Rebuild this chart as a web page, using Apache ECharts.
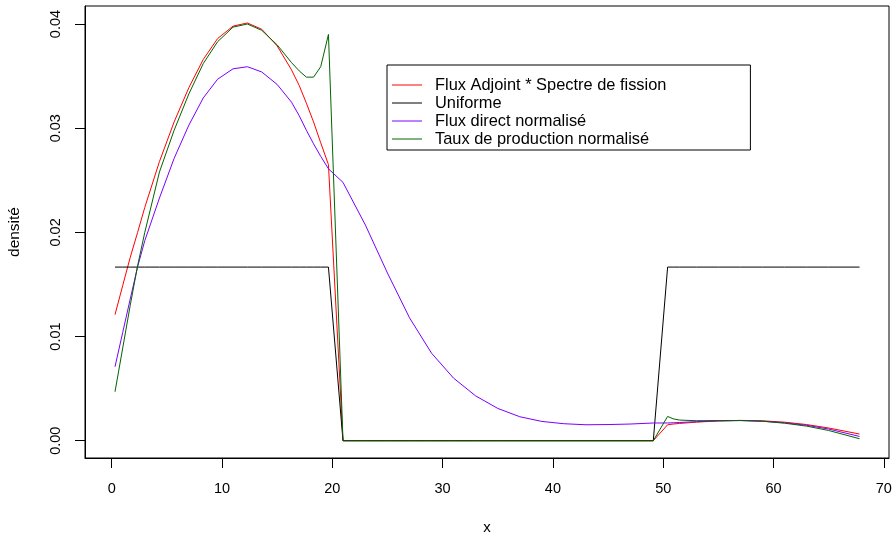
<!DOCTYPE html>
<html>
<head>
<meta charset="utf-8">
<script src="https://cdn.jsdelivr.net/npm/echarts@6/dist/echarts.min.js"></script>
<style>
html,body{margin:0;padding:0;background:#fff;}
#chart{width:896px;height:537px;}
</style>
</head>
<body>
<div id="chart"></div>
<script>
// Shared abscissa
var xValues = [
  0.30, 1.0, 1.68, 2.35, 3.0, 4.33, 5.66, 7.0, 8.3, 9.6, 11.0, 12.3, 13.6, 15.0, 16.3, 17.0, 17.65, 18.3, 18.95, 19.65,
  20.97, 23, 25, 27, 29, 31, 33, 35, 37, 39, 41, 43, 45, 47, 49.1,
  50.4, 50.9, 51.5, 53, 55, 57, 59, 61, 63, 65, 67.8
];
var fluxAdjoint = [
  0.0121, 0.0149, 0.0176, 0.0200, 0.0224, 0.0268, 0.0306, 0.0339, 0.0366, 0.0386, 0.0398, 0.0401, 0.0395, 0.0379, 0.0356, 0.0341, 0.0324, 0.0306, 0.0286, 0.0265,
  0, 0, 0, 0, 0, 0, 0, 0, 0, 0, 0, 0, 0, 0, 0,
  0.00153, 0.0016, 0.00166, 0.00178, 0.0019, 0.00195, 0.00191, 0.00178, 0.00155, 0.00122, 0.00064
];
var uniforme = [
  0.016667, 0.016667, 0.016667, 0.016667, 0.016667, 0.016667, 0.016667, 0.016667, 0.016667, 0.016667, 0.016667, 0.016667, 0.016667, 0.016667, 0.016667, 0.016667, 0.016667, 0.016667, 0.016667, 0.016667,
  0, 0, 0, 0, 0, 0, 0, 0, 0, 0, 0, 0, 0, 0, 0,
  0.016667, 0.016667, 0.016667, 0.016667, 0.016667, 0.016667, 0.016667, 0.016667, 0.016667, 0.016667, 0.016667
];
var fluxDirect = [
  0.0071, 0.0104, 0.0136, 0.0167, 0.0192, 0.0233, 0.0271, 0.0303, 0.0329, 0.0347, 0.0357, 0.0359, 0.0354, 0.0342, 0.0325, 0.0312, 0.0298, 0.0285, 0.0273, 0.0261,
  0.0248, 0.0207, 0.0161, 0.0118, 0.0084, 0.0060, 0.0043, 0.0031, 0.0023, 0.00185, 0.00163, 0.00153, 0.00155, 0.0016, 0.0017,
  0.0017, 0.00172, 0.00175, 0.00183, 0.0019, 0.00193, 0.00187, 0.00172, 0.00148, 0.00112, 0.00041
];
var tauxProduction = [
  0.0047, 0.0089, 0.0130, 0.0168, 0.0200, 0.0258, 0.0298, 0.0333, 0.0362, 0.0383, 0.0397, 0.0400, 0.0394, 0.0380, 0.0363, 0.0355, 0.0349, 0.0349, 0.0359, 0.0390,
  0, 0, 0, 0, 0, 0, 0, 0, 0, 0, 0, 0, 0, 0, 0,
  0.00233, 0.0021, 0.00198, 0.00192, 0.00193, 0.00194, 0.00187, 0.00168, 0.0014, 0.00098, 0.00019
];
var seriesNames = ['Flux Adjoint * Spectre de fission', 'Uniforme', 'Flux direct normalisé', 'Taux de production normalisé'];
var seriesColors = ['#ff0000', '#000000', '#7a00ff', '#006400'];
var xTicks = [0, 10, 20, 30, 40, 50, 60, 70];
var yTicks = [0, 0.01, 0.02, 0.03, 0.04];

var FONT = 'Liberation Sans, Arial, sans-serif';
function zip(vals){ return xValues.map(function(x,i){ return [x, vals[i]]; }); }
var allVals = [fluxAdjoint, uniforme, fluxDirect, tauxProduction];

var chart = echarts.init(document.getElementById('chart'), null, {renderer:'canvas'});
chart.setOption({
  animation: false,
  backgroundColor: '#ffffff',
  textStyle: {fontFamily: FONT},
  grid: {left: 85, right: 7, top: 6, bottom: 79, outerBoundsMode: 'none', containLabel: false,
    show: true, borderColor: '#000', borderWidth: 1, backgroundColor: 'transparent'},
  legend: {
    orient: 'vertical', left: 387, top: 65,
    padding: [11, 84, 2, 5],
    icon: 'rect',
    itemWidth: 30, itemHeight: 1, itemGap: 0,
    borderColor: '#000', borderWidth: 1, borderRadius: 0,
    backgroundColor: '#fff',
    textStyle: {fontSize: 16.4, lineHeight: 18, color: '#000', fontFamily: FONT, padding: [0, 0, 0, 8]},
    data: seriesNames
  },
  xAxis: {
    type: 'value', min: -2.42, max: 70.47,
    name: 'x', nameLocation: 'middle', nameGap: 62,
    nameTextStyle: {fontSize: 15, color: '#000', fontFamily: FONT},
    axisLine: {show: true, onZero: false, lineStyle: {color: '#000', width: 1}},
    axisTick: {show: true, length: 10, lineStyle: {color: '#000'}, customValues: xTicks},
    axisLabel: {fontSize: 14.5, color: '#000', margin: 23, fontFamily: FONT, customValues: xTicks},
    splitLine: {show: false}
  },
  yAxis: {
    type: 'value', min: -0.00166, max: 0.04173,
    name: 'densité', nameLocation: 'middle', nameGap: 62, nameRotate: 90,
    nameTextStyle: {fontSize: 15.5, color: '#000', fontFamily: FONT},
    axisLine: {show: true, onZero: false, lineStyle: {color: '#000', width: 1}},
    axisTick: {show: true, length: 10, lineStyle: {color: '#000'}, customValues: yTicks},
    axisLabel: {fontSize: 14.5, color: '#000', margin: 22, rotate: 90, fontFamily: FONT, customValues: yTicks,
      formatter: function(v){ return v.toFixed(2); }},
    splitLine: {show: false}
  },
  series: seriesNames.map(function(n, i){
    return {
      name: n, type: 'line', data: zip(allVals[i]),
      symbol: 'none', showSymbol: false,
      lineStyle: {color: seriesColors[i], width: 1},
      itemStyle: {color: seriesColors[i]},
      emphasis: {disabled: true}
    };
  })
});
</script>
</body>
</html>
